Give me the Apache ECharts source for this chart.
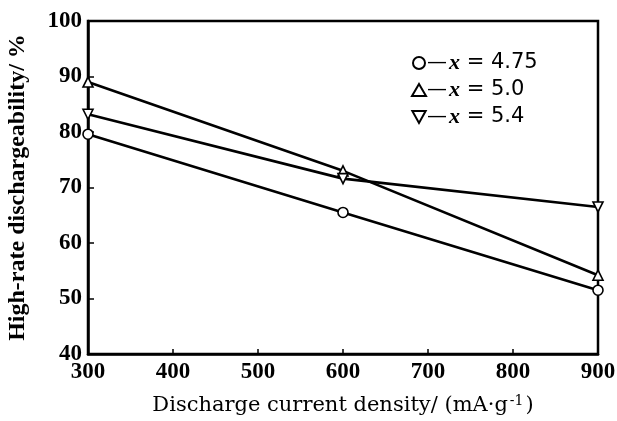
<!DOCTYPE html>
<html>
<head>
<meta charset="utf-8">
<script src="https://cdn.jsdelivr.net/npm/echarts@6/dist/echarts.min.js"></script>
<style>
  html, body { margin: 0; padding: 0; background: #fff; }
  #chart { width: 617px; height: 421px; }
</style>
</head>
<body>
<div id="chart"></div>
<script>
  /** Data */
  var currentDensity = [300, 600, 900];
  var seriesNames = ['4.75', '5.0', '5.4'];
  var hrd475 = [79.6, 65.5, 51.5];
  var hrd50 = [89.0, 73.0, 54.2];
  var hrd54 = [83.2, 71.6, 66.5];
  var xTicks = [300, 400, 500, 600, 700, 800, 900];
  var yTicks = [40, 50, 60, 70, 80, 90, 100];

  var serif = "'Liberation Serif', 'DejaVu Serif', serif";
  var downTriangle = 'path://M0,0L10,0L5,9Z';

  function pairs(values) {
    return currentDensity.map(function(x, i) { return [x, values[i]]; });
  }

  function lineSeries(name, values, symbol) {
    return {
      name: name,
      type: 'line',
      data: pairs(values),
      symbol: symbol,
      symbolSize: 10,
      clip: false,
      lineStyle: { color: '#000', width: 2.6 },
      itemStyle: { color: '#fff', borderColor: '#000', borderWidth: 1.6 },
      emphasis: { disabled: true }
    };
  }

  var option = {
    animation: false,
    backgroundColor: '#fff',
    grid: {
      left: 88, top: 21, right: 19, bottom: 67,
      outerBoundsMode: 'none',
      containLabel: false,
      show: true,
      borderColor: '#000',
      borderWidth: 2.5
    },
    legend: {
      orient: 'vertical',
      left: 406,
      top: 47,
      itemGap: 5,
      itemWidth: 14,
      itemHeight: 12,
      selectedMode: false,
      data: [
        { name: seriesNames[0], icon: 'circle' },
        { name: seriesNames[1], icon: 'triangle' },
        { name: seriesNames[2], icon: downTriangle }
      ],
      formatter: function(name) {
        return '{d|\u2014}{i|x}{t| = ' + name + '}';
      },
      textStyle: {
        rich: {
          d: { fontSize: 20, color: '#000', fontFamily: 'DejaVu Sans', padding: [0, 2, 0, -4] },
          i: { fontSize: 22, color: '#000', fontFamily: serif, fontStyle: 'italic', fontWeight: 'bold' },
          t: { fontSize: 21, color: '#000', fontFamily: "'DejaVu Sans', sans-serif" }
        }
      }
    },
    xAxis: {
      type: 'value',
      min: 300, max: 900, interval: 100,
      name: 'Discharge current density/ (mA\u00b7g{s|-1})',
      nameLocation: 'middle',
      nameGap: 40,
      nameTextStyle: {
        fontFamily: "'DejaVu Serif', serif", fontSize: 21, color: '#000',
        rich: { s: { fontFamily: "'DejaVu Serif', serif", fontSize: 14, color: '#000', verticalAlign: 'bottom', padding: [0, 2, 10, 2] } }
      },
      axisLine: { lineStyle: { color: '#000', width: 2.5 } },
      axisTick: { inside: true, length: 5, lineStyle: { color: '#000', width: 1.5 } },
      splitLine: { show: false },
      axisLabel: {
        margin: 7,
        color: '#000', fontFamily: serif, fontSize: 23, fontWeight: 'bold',
        formatter: function(v) { return xTicks.indexOf(v) >= 0 ? String(v) : ''; }
      }
    },
    yAxis: {
      type: 'value',
      min: 40, max: 100, interval: 10,
      name: 'High-rate dischargeability/ %',
      nameLocation: 'middle',
      nameGap: 58,
      nameTextStyle: { fontFamily: serif, fontSize: 24, fontWeight: 'bold', color: '#000' },
      axisLine: { show: true, lineStyle: { color: '#000', width: 2.5 } },
      axisTick: { show: true, inside: true, length: 6, lineStyle: { color: '#000', width: 1.5 } },
      splitLine: { show: false },
      axisLabel: {
        margin: 6,
        color: '#000', fontFamily: serif, fontSize: 23, fontWeight: 'bold',
        formatter: function(v) { return yTicks.indexOf(v) >= 0 ? String(v) : ''; }
      }
    },
    series: [
      lineSeries(seriesNames[0], hrd475, 'circle'),
      lineSeries(seriesNames[1], hrd50, 'triangle'),
      lineSeries(seriesNames[2], hrd54, downTriangle)
    ]
  };

  echarts.init(document.getElementById('chart'), null, { renderer: 'canvas' }).setOption(option);
</script>
</body>
</html>
